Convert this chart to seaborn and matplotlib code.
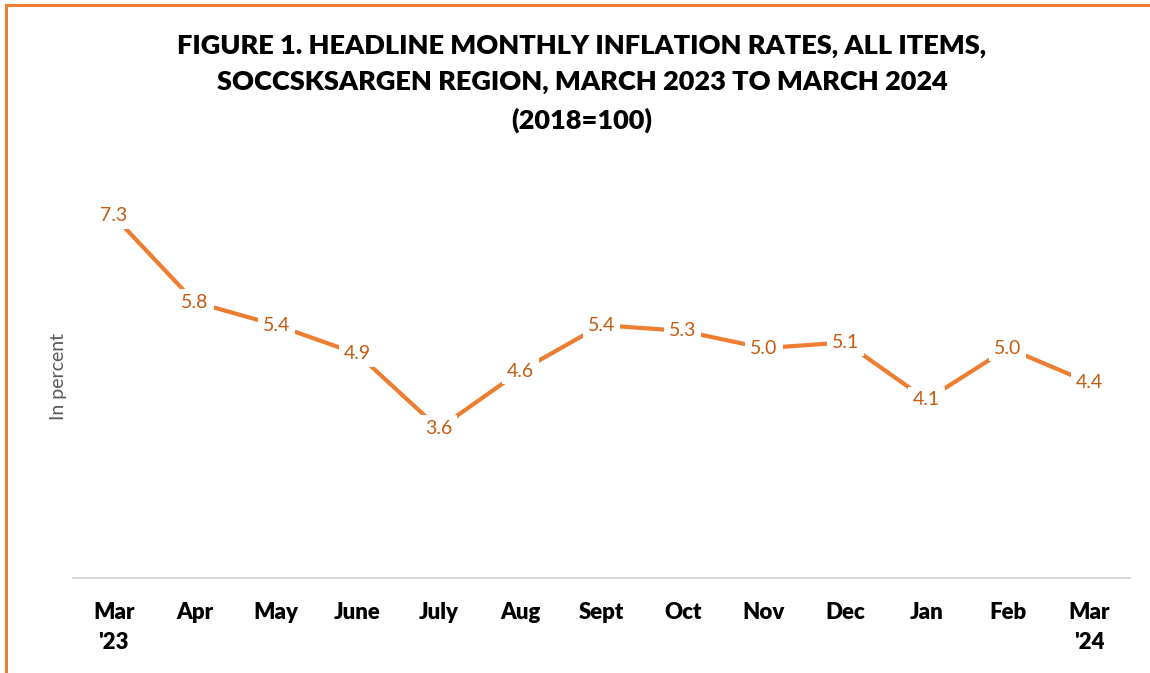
import pandas as pd
import seaborn as sns
import matplotlib.pyplot as plt
from matplotlib.patches import Rectangle

# chart values
months = ["Mar\n'23", 'Apr', 'May', 'June', 'July', 'Aug', 'Sept',
          'Oct', 'Nov', 'Dec', 'Jan', 'Feb', "Mar\n'24"]
rates = [7.3, 5.8, 5.4, 4.9, 3.6, 4.6, 5.4, 5.3, 5.0, 5.1, 4.1, 5.0, 4.4]

title = ('FIGURE 1. HEADLINE MONTHLY INFLATION RATES, ALL ITEMS,\n'
         'SOCCSKSARGEN REGION, MARCH 2023 TO MARCH 2024\n(2018=100)')

data = pd.DataFrame({'pos': range(len(months)), 'Rate': rates})

sns.set_style('white')
plt.rcParams['font.family'] = ['Lato', 'DejaVu Sans']

fig = plt.figure(figsize=(11.5, 6.73), dpi=100)
ax = fig.add_axes([0.0635, 0.141, 0.919, 0.598])

sns.lineplot(data=data, x='pos', y='Rate', color='#ED7D31', linewidth=3, ax=ax)

for i, v in enumerate(rates):
    ax.text(i, v, f'{v:.1f}', ha='center', va='center', fontsize=14,
            color='#C55A11',
            bbox=dict(boxstyle='square,pad=0.25', fc='white', ec='none'))

ax.set_xlim(-0.5, len(months) - 0.5)
ax.set_ylim(1, 8)
ax.set_xticks(range(len(months)))
ax.set_xticklabels(months, fontsize=16, fontweight='heavy', color='black',
                   linespacing=1.55)
ax.tick_params(axis='x', length=0, pad=17)
ax.set_yticks([])
ax.set_xlabel('')
ax.set_ylabel('In percent', fontsize=14, color='#595959', labelpad=4)

for s in ['top', 'right', 'left']:
    ax.spines[s].set_visible(False)
ax.spines['bottom'].set_color('#D9D9D9')
ax.spines['bottom'].set_linewidth(1.5)

fig.text(0.506, 0.950, title, ha='center', va='top', fontsize=19.5,
         fontweight='heavy', color='black', linespacing=1.62)

# orange frame on top and left
fig.add_artist(Rectangle((0.0055, -0.1), 1.2, 1.092, transform=fig.transFigure,
                         fill=False, ec='#ED7D31', lw=2.2))

fig.savefig('out.png', dpi=100)
